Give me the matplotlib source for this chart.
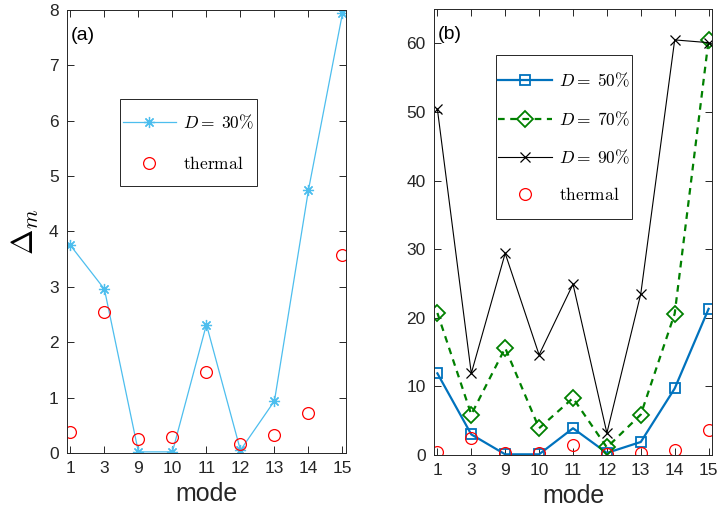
import numpy as np
import matplotlib
matplotlib.use('Agg')
import matplotlib.pyplot as plt
from matplotlib.patches import Rectangle

plt.rcParams['font.family'] = ['Liberation Sans', 'DejaVu Sans']
plt.rcParams['mathtext.fontset'] = 'cm'

# data
modes = ['1', '3', '9', '10', '11', '12', '13', '14', '15']
d30 = [3.75, 2.96, 0.02, 0.02, 2.32, 0.05, 0.94, 4.75, 7.94]
thermal = [0.37, 2.55, 0.26, 0.28, 1.47, 0.17, 0.32, 0.73, 3.58]
d50 = [11.9, 3.0, 0.1, 0.1, 3.9, 0.3, 1.9, 9.7, 21.3]
d70 = [20.7, 5.9, 15.6, 3.9, 8.3, 1.1, 5.9, 20.6, 60.5]
d90 = [50.4, 11.9, 29.4, 14.6, 24.9, 3.2, 23.5, 60.5, 60.1]

x = np.arange(1, len(modes) + 1)
ink = '#262626'
asterisk = (8, 2, 0)


def boxed_legend(ax, x0, y0, w, h, spacing):
    # MATLAB-like legend: frame drawn separately, entries centred in it
    ax.add_patch(Rectangle((x0, y0), w, h, transform=ax.transAxes, facecolor='white',
                           edgecolor=ink, lw=0.7, zorder=5))
    leg = ax.legend(loc='center', bbox_to_anchor=(x0, y0, w, h), frameon=False,
                    fontsize=12.5, handlelength=3.1, handletextpad=0.4,
                    labelspacing=spacing, borderpad=0, borderaxespad=0)
    leg.set_zorder(6)


fig = plt.figure(figsize=(7.17, 5.19), dpi=100)
ax_a = fig.add_axes([0.0934, 0.1272, 0.389, 0.8536])
ax_b = fig.add_axes([0.6053, 0.1233, 0.3877, 0.8593])

lab30 = r'$D\mathrm{=}\;\mathrm{30\%}$'
lab50 = r'$D\mathrm{=}\;\mathrm{50\%}$'
lab70 = r'$D\mathrm{=}\;\mathrm{70\%}$'
lab90 = r'$D\mathrm{=}\;\mathrm{90\%}$'
labth = r'$\mathrm{thermal}$'

# panel (a)
ax_a.plot(x, d30, '-', marker=asterisk, color='#4DBEEE', lw=0.9, ms=8, mew=0.9, label=lab30)
ax_a.plot(x, thermal, 'o', color='red', mfc='none', ms=8.5, mew=0.9, label=labth)
ax_a.set_ylim(0, 8)
ax_a.set_yticks(range(0, 9))
ax_a.text(0.012, 0.962, '(a)', transform=ax_a.transAxes, fontsize=14, va='top', ha='left', color='black')
ax_a.set_ylabel(r'$\Delta_m$', fontsize=22, labelpad=6)
boxed_legend(ax_a, 0.19, 0.603, 0.491, 0.196, 1.4)

# panel (b)
ax_b.plot(x, d50, '-s', color='#0072BD', lw=1.6, ms=7, mew=1.3, mfc='none', label=lab50)
ax_b.plot(x, d70, '--D', color='#008000', lw=1.6, ms=8.5, mew=1.3, mfc='none',
          dashes=(3, 2.5), label=lab70)
ax_b.plot(x, d90, '-x', color='black', lw=0.8, ms=7, mew=0.9, label=lab90)
ax_b.plot(x, thermal, 'o', color='red', mfc='none', ms=8.5, mew=0.9, label=labth)
ax_b.set_ylim(0, 65)
ax_b.set_yticks(range(0, 61, 10))
ax_b.text(0.012, 0.962, '(b)', transform=ax_b.transAxes, fontsize=14, va='top', ha='left', color='black')
boxed_legend(ax_b, 0.223, 0.529, 0.489, 0.368, 1.15)

for ax in (ax_a, ax_b):
    ax.set_xlim(0.9, 9.1)
    ax.set_xticks(x)
    ax.set_xticklabels(modes)
    ax.set_xlabel('mode', fontsize=18, color=ink, labelpad=4)
    ax.tick_params(direction='in', top=True, right=True, length=5, width=0.7,
                   colors=ink, labelsize=12.5, pad=6)
    for s in ax.spines.values():
        s.set_color(ink)
        s.set_linewidth(0.7)

fig.savefig('out.png', dpi=100)
